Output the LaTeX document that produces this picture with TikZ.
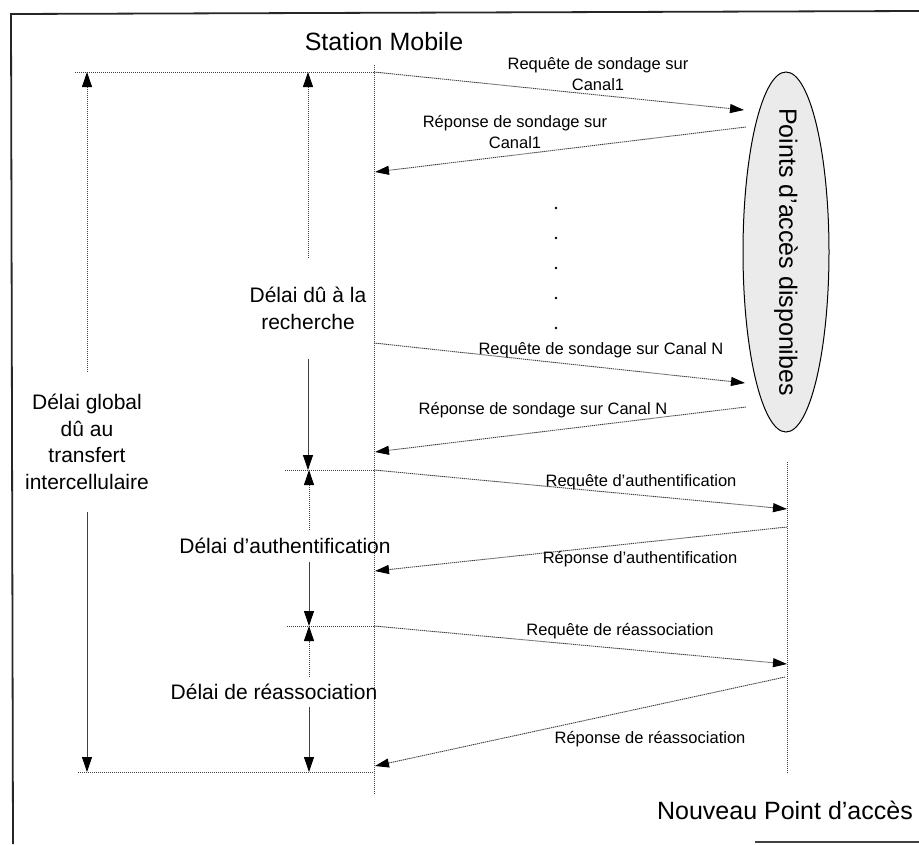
\documentclass[tikz,border=0pt]{standalone}
\usepackage{fontspec}
\setmainfont{Liberation Sans}
\usetikzlibrary{arrows.meta}
\begin{document}
\begin{tikzpicture}[x=1pt,y=-1pt,
  frame/.style={line width=1.8pt, black!85},
  trace/.style={black!75, line width=0.9pt, dash pattern=on 1.3pt off 0.7pt},
  msg/.style={trace, -{Triangle[length=14pt,width=9pt,black]}},
  dimarr/.style={trace, -{Triangle[length=15pt,width=10pt,black]}},
  bigtxt/.style={font=\fontsize{25}{30}\selectfont, inner sep=0pt},
  delaytxt/.style={font=\fontsize{21}{26.7}\selectfont, align=center, inner sep=0pt},
  msgtxt/.style={font=\fontsize{16.5}{21}\selectfont, align=center, inner sep=0pt},
  apfill/.style={draw=black, line width=1pt, fill=black!8},
]
\useasboundingbox (0,0) rectangle (919,844);
\fill[white] (0,0) rectangle (919,844);

% page frame
\coordinate (fTL) at (11,14);
\coordinate (fTR) at (919,11);
\coordinate (fBL) at (13,844);
\coordinate (fB1) at (755,842);
\coordinate (fB2) at (919,842);
\draw[frame] (fTR) -- (fTL) -- (fBL);
\draw[line width=1.5pt, black!75] (fB1) -- (fB2);

% actors
\node[bigtxt, anchor=base] (sm) at (384,50) {Station Mobile};
\node[bigtxt, anchor=base] (npa) at (785,819) {Nouveau Point d’accès};
\coordinate (apc) at (786,252);
\draw[apfill] (apc) ellipse [x radius=43pt, y radius=180pt];
\node[bigtxt, rotate=-90] (aps) at (apc) {Points d’accès disponibes};

% lifelines
\coordinate (smTop) at (374,65);
\coordinate (smBot) at (374,795);
\coordinate (apTop) at (787,462);
\coordinate (apBot) at (787,774);
\draw[trace] (smTop) -- (smBot);
\draw[trace] (apTop) -- (apBot);

% message end points
\coordinate (s1) at (374,72);   \coordinate (e1) at (744,110);
\coordinate (e2) at (746,127);  \coordinate (s2) at (375,172);
\coordinate (s3) at (374,343);  \coordinate (e3) at (745,383);
\coordinate (e4) at (746,407);  \coordinate (s4) at (375,452);
\coordinate (s5) at (374,470);  \coordinate (e5) at (787,509);
\coordinate (e6) at (787,527);  \coordinate (s6) at (375,571);
\coordinate (s7) at (374,626);  \coordinate (e7) at (787,664);
\coordinate (e8) at (785,677);  \coordinate (s8) at (375,766);
\coordinate (s9) at (374,772);

% messages
\draw[msg] (s1) -- (e1);
\draw[msg] (e2) -- (s2);
\draw[msg] (s3) -- (e3);
\draw[msg] (e4) -- (s4);
\draw[msg] (s5) -- (e5);
\draw[msg] (e6) -- (s6);
\draw[msg] (s7) -- (e7);
\draw[msg] (e8) -- (s8);

\node[msgtxt] (m1) at (598,74.4) {Requête de sondage sur\\Canal1};
\node[msgtxt] (m2) at (515,132.4) {Réponse de sondage sur\\Canal1};
\node[msgtxt, anchor=base] (m3) at (601,354) {Requête de sondage sur Canal N};
\node[msgtxt, anchor=base] (m4) at (543,414) {Réponse de sondage sur Canal N};
\node[msgtxt, anchor=base] (m5) at (641,486) {Requête d’authentification};
\node[msgtxt, anchor=base] (m6) at (640,563) {Réponse d’authentification};
\node[msgtxt, anchor=base] (m7) at (620,635) {Requête de réassociation};
\node[msgtxt, anchor=base] (m8) at (650,743) {Réponse de réassociation};

% channels in between
\foreach \yy in {208,238,268,298,328} \fill (556,\yy) circle (1.3pt);

% reference lines of the delays
\coordinate (l0) at (75,72);
\coordinate (l1) at (285,470);
\coordinate (l2) at (287,626);
\coordinate (l3) at (78,772);
\draw[trace] (l0) -- (s1);
\draw[trace] (l1) -- (s5);
\draw[trace] (l2) -- (s7);
\draw[trace] (l3) -- (s9);

% global delay
\coordinate (gA) at (87,72);
\coordinate (gB) at (87,772);
\node[delaytxt, minimum height=140pt] (dg) at (87,442)
  {Délai global\\dû au\\transfert\\intercellulaire};
\draw[dimarr] (dg.north) -- (gA);
\draw[dimarr] (dg.south) -- (gB);

% search delay
\coordinate (sA) at (308,72);
\coordinate (sB) at (308,470);
\node[delaytxt, minimum height=101pt] (dr) at (308,308.5)
  {Délai dû à la\\recherche};
\draw[dimarr] (dr.north) -- (sA);
\draw[dimarr] (dr.south) -- (sB);

% authentication delay
\coordinate (aA) at (309,470);
\coordinate (aB) at (309,626);
\node[delaytxt, minimum height=32pt] (da) at (285,546) {Délai d’authentification};
\draw[dimarr] (da.north -| aA) -- (aA);
\draw[dimarr] (da.south -| aB) -- (aB);

% reassociation delay
\coordinate (rA) at (309,626);
\coordinate (rB) at (309,772);
\node[delaytxt, minimum height=30pt] (dra) at (274,692) {Délai de réassociation};
\draw[dimarr] (dra.north -| rA) -- (rA);
\draw[dimarr] (dra.south -| rB) -- (rB);
\end{tikzpicture}
\end{document}
